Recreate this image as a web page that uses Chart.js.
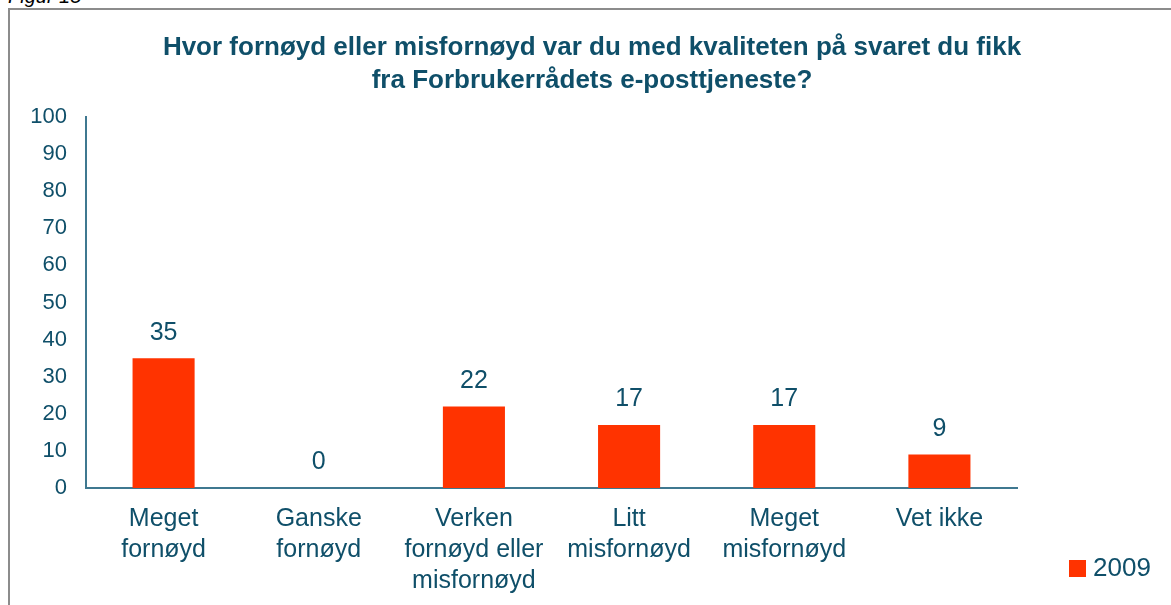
<!DOCTYPE html>
<html>
<head>
<meta charset="utf-8">
<script src="https://cdn.jsdelivr.net/npm/chart.js"></script>
<style>
  html, body { margin: 0; padding: 0; background: #fff; overflow: hidden; }
  #figur { position: absolute; left: 8px; top: -15px; font: italic 20px "Liberation Sans", Arial, sans-serif; color: #000; }
  #frame { position: absolute; left: 8px; top: 8px; width: 1200px; height: 700px; border: 2px solid #8c8c8c; }
  #wrap { position: absolute; left: 0; top: 0; width: 1171px; height: 605px; }
</style>
</head>
<body>
<div id="figur">Figur 15</div>
<div id="frame"></div>
<div id="wrap"><canvas id="chart"></canvas></div>
<script>
// data
const categories = [
    ['Meget', 'fornøyd'],
    ['Ganske', 'fornøyd'],
    ['Verken', 'fornøyd eller', 'misfornøyd'],
    ['Litt', 'misfornøyd'],
    ['Meget', 'misfornøyd'],
    ['Vet ikke']
];
const values2009 = [35, 0, 22, 17, 17, 9];
const seriesName = '2009';
const yTicks = [0, 10, 20, 30, 40, 50, 60, 70, 80, 90, 100];

const textColor = '#0f4f69';
const axisColor = '#3f7890';
const barColor = '#ff3300';
const fontFamily = '"Liberation Sans", Arial, sans-serif';

// value labels above bars + legend in the lower right
const labelsPlugin = {
    id: 'labelsPlugin',
    afterDatasetsDraw(chart) {
        const ctx = chart.ctx;
        const meta = chart.getDatasetMeta(0);
        ctx.save();
        ctx.font = '25px ' + fontFamily;
        ctx.fillStyle = textColor;
        ctx.textAlign = 'center';
        ctx.textBaseline = 'bottom';
        meta.data.forEach((bar, i) => {
            ctx.fillText(String(chart.data.datasets[0].data[i]), bar.x, bar.y - 13);
        });
        // legend
        const ds = chart.data.datasets[0];
        ctx.fillStyle = ds.backgroundColor;
        ctx.fillRect(1069, 560, 17, 17);
        ctx.fillStyle = textColor;
        ctx.textAlign = 'left';
        ctx.textBaseline = 'middle';
        ctx.font = '26px ' + fontFamily;
        ctx.fillText(ds.label, 1093, 569);
        ctx.restore();
    }
};

const ctx = document.getElementById('chart').getContext('2d');
new Chart(ctx, {
    type: 'bar',
    data: {
        labels: categories,
        datasets: [
            {
                label: seriesName,
                data: values2009,
                backgroundColor: barColor,
                borderWidth: 0,
                categoryPercentage: 1.0,
                barPercentage: 0.4
            }
        ]
    },
    options: {
        responsive: true,
        maintainAspectRatio: false,
        animation: false,
        layout: {
            padding: { left: 13, right: 0, top: 0, bottom: 0 }
        },
        plugins: {
            legend: { display: false },
            tooltip: { enabled: false },
            title: {
                display: true,
                text: [
                    'Hvor fornøyd eller misfornøyd var du med kvaliteten på svaret du fikk',
                    'fra Forbrukerrådets e-posttjeneste?'
                ],
                color: textColor,
                font: { family: fontFamily, size: 26, weight: 'bold', lineHeight: 1.27 },
                padding: { top: 31, bottom: 20 }
            }
        },
        scales: {
            x: {
                grid: { display: false, drawTicks: false },
                border: { color: axisColor, width: 2 },
                ticks: {
                    color: textColor,
                    font: { family: fontFamily, size: 25, lineHeight: 1.24 },
                    padding: 16,
                    maxRotation: 0,
                    autoSkip: false
                },
                afterFit(scale) { scale.height = 117; }
            },
            y: {
                min: 0,
                max: 100,
                afterBuildTicks(scale) { scale.ticks = yTicks.map(v => ({ value: v })); },
                grid: { display: false, drawTicks: true, tickLength: 7, tickColor: axisColor, tickWidth: 2 },
                border: { color: axisColor, width: 2 },
                ticks: {
                    color: textColor,
                    font: { family: fontFamily, size: 22 },
                    padding: 12
                },
                afterFit(scale) { scale.width = 73; }
            },
            // empty space on the right where the legend sits
            spacer: {
                type: 'linear',
                position: 'right',
                grid: { display: false },
                border: { display: false },
                ticks: { display: false },
                afterFit(scale) { scale.width = 154; }
            }
        }
    },
    plugins: [labelsPlugin]
});
</script>
</body>
</html>
